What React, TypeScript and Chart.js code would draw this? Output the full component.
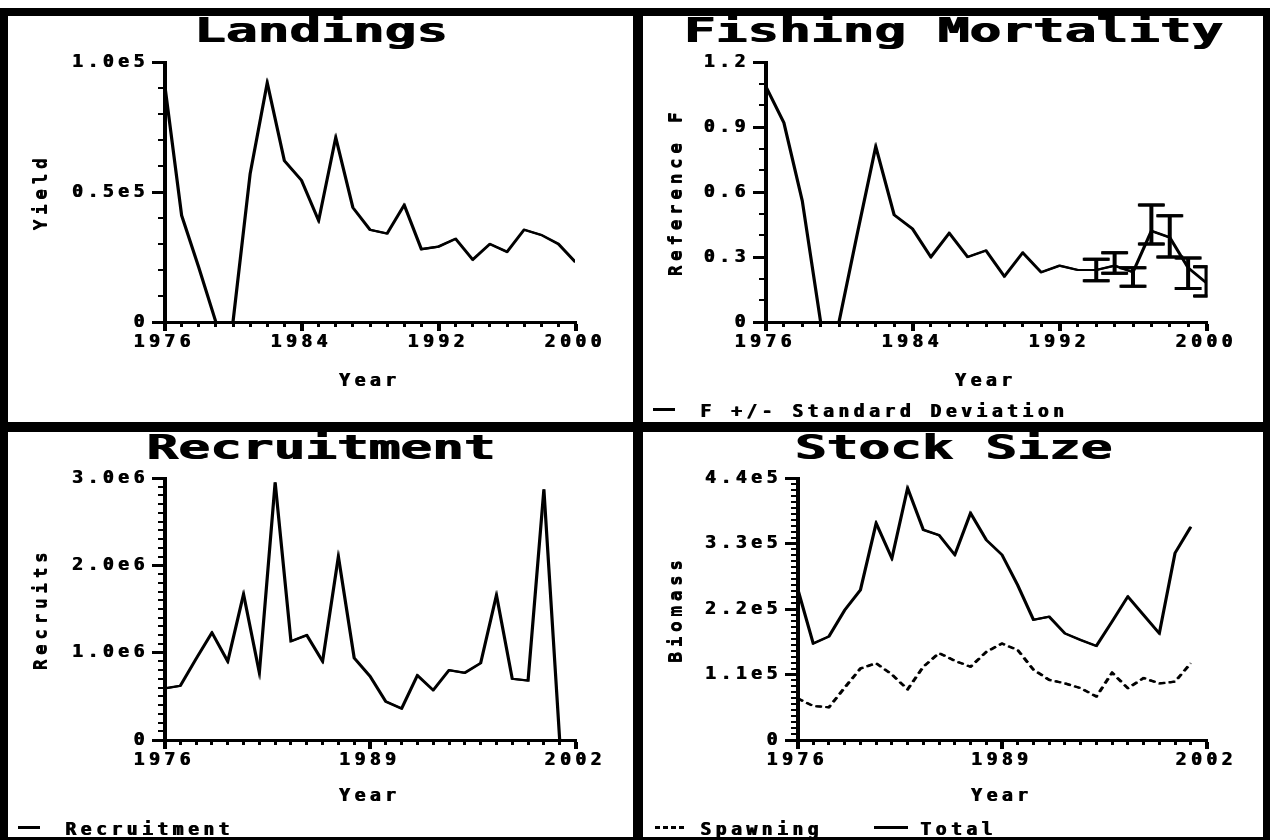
import React, { useEffect, useRef } from 'react';
import { Chart, registerables } from 'chart.js';

Chart.register(...registerables);

const FONT = '"DejaVu Sans Mono", "Liberation Mono", monospace';
const LETTER_SPACING = '4.5px';

// ---------- data ----------
const yearsA = [1976, 1977, 1978, 1979, 1980, 1981, 1982, 1983, 1984, 1985, 1986, 1987, 1988, 1989, 1990, 1991, 1992, 1993, 1994, 1995, 1996, 1997, 1998, 1999, 2000];
const yearsB = [1976, 1977, 1978, 1979, 1980, 1981, 1982, 1983, 1984, 1985, 1986, 1987, 1988, 1989, 1990, 1991, 1992, 1993, 1994, 1995, 1996, 1997, 1998, 1999, 2000, 2001];

const landingsYield = [92000, 41000, 21000, 0, 0, 57000, 92000, 62000, 54500, 39000, 71000, 44000, 35500, 34000, 45000, 28000, 29000, 32000, 24000, 30000, 27000, 35500, 33500, 30000, 23000];

const fishingF = [1.09, 0.92, 0.56, 0, 0, 0.41, 0.81, 0.495, 0.43, 0.3, 0.41, 0.3, 0.33, 0.21, 0.32, 0.23, 0.26, 0.24, 0.24, 0.26, 0.23, 0.42, 0.39, 0.25, 0.18];
const sdYears = [1994, 1995, 1996, 1997, 1998, 1999, 2000];
const fUpper = [0.29, 0.32, 0.25, 0.54, 0.49, 0.295, 0.255];
const fLower = [0.19, 0.225, 0.165, 0.36, 0.3, 0.155, 0.12];

const recruits = [590000, 620000, 930000, 1230000, 900000, 1670000, 770000, 2950000, 1130000, 1200000, 900000, 2100000, 940000, 730000, 440000, 360000, 740000, 570000, 800000, 770000, 880000, 1660000, 700000, 680000, 2870000, 0];

const totalBiomass = [255000, 162000, 174000, 218000, 252000, 364000, 305000, 423000, 353000, 344000, 311000, 381000, 336000, 311000, 260000, 202000, 207000, 179000, 168000, 158000, 199000, 241000, 210000, 179000, 314000, 358000];
const spawningBiomass = [70000, 57000, 55000, 88000, 120000, 129000, 110000, 85000, 123000, 146000, 133000, 123000, 148000, 162000, 151000, 118000, 101000, 95000, 87000, 73000, 113000, 87000, 104000, 95000, 98000, 129000];

const xTicksTop = [1976, 1984, 1992, 2000];
const xTicksBottom = [1976, 1989, 2002];
const yTicksLandings = [0, 50000, 100000];
const yLabelsLandings = ['0', '0.5e5', '1.0e5'];
const yTicksF = [0, 0.3, 0.6, 0.9, 1.2];
const yLabelsF = ['0', '0.3', '0.6', '0.9', '1.2'];
const yTicksRecruits = [0, 1000000, 2000000, 3000000];
const yLabelsRecruits = ['0', '1.0e6', '2.0e6', '3.0e6'];
const yTicksBiomass = [0, 110000, 220000, 330000, 440000];
const yLabelsBiomass = ['0', '1.1e5', '2.2e5', '3.3e5', '4.4e5'];

// ---------- plugins ----------
function styleCtx(chart: any) {
  const ctx = chart.ctx;
  ctx.letterSpacing = LETTER_SPACING;
  ctx.shadowColor = '#000';
  ctx.shadowOffsetX = 1;
  ctx.shadowOffsetY = 0;
  ctx.shadowBlur = 0;
}

const spacingPlugin = {
  id: 'letterSpacingHack',
  beforeUpdate(chart: any) { styleCtx(chart); },
  beforeLayout(chart: any) { styleCtx(chart); },
  beforeDraw(chart: any) { styleCtx(chart); },
};

const minorTicksPlugin = {
  id: 'minorTicks',
  afterDraw(chart: any, _args: any, opts: any) {
    if (!opts || !opts.xStep) return;
    const x = chart.scales.x;
    const y = chart.scales.y;
    const ctx = chart.ctx;
    ctx.save();
    ctx.strokeStyle = '#000';
    ctx.lineWidth = 2;
    ctx.beginPath();
    const nx = Math.round((x.max - x.min) / opts.xStep);
    for (let k = 0; k <= nx; k++) {
      const px = Math.round(x.getPixelForValue(x.min + k * opts.xStep));
      ctx.moveTo(px, x.top);
      ctx.lineTo(px, x.top + 5);
    }
    const ny = Math.round((y.max - y.min) / opts.yStep);
    for (let k = 0; k <= ny; k++) {
      const py = Math.round(y.getPixelForValue(y.min + k * opts.yStep));
      ctx.moveTo(y.right - 6, py);
      ctx.lineTo(y.right, py);
    }
    ctx.stroke();
    ctx.restore();
  },
};

const errorBarPlugin = {
  id: 'errorBars',
  afterDatasetsDraw(chart: any, _args: any, opts: any) {
    if (!opts || !opts.years) return;
    const { years, upper, lower } = opts;
    const x = chart.scales.x;
    const y = chart.scales.y;
    const ca = chart.chartArea;
    const ctx = chart.ctx;
    ctx.save();
    ctx.beginPath();
    ctx.rect(ca.left - 20, ca.top - 5, ca.right - ca.left + 21.5, ca.bottom - ca.top + 5);
    ctx.clip();
    ctx.strokeStyle = '#000';
    ctx.lineWidth = 3;
    ctx.beginPath();
    for (let i = 0; i < years.length; i++) {
      const px = x.getPixelForValue(years[i]);
      const pu = y.getPixelForValue(upper[i]);
      const pl = y.getPixelForValue(lower[i]);
      ctx.moveTo(px, pu);
      ctx.lineTo(px, pl);
      ctx.moveTo(px - 13, pu);
      ctx.lineTo(px + 13, pu);
      ctx.moveTo(px - 13, pl);
      ctx.lineTo(px + 13, pl);
    }
    ctx.stroke();
    ctx.restore();
  },
};

// ---------- chart panel ----------
type Series = { values: number[]; dash?: number[]; width?: number };
type Spec = {
  width: number;
  height: number;
  area: { left: number; right: number; top: number; bottom: number };
  years: number[];
  series: Series[];
  xMin: number;
  xMax: number;
  xTicks: number[];
  yMax: number;
  yTicks: number[];
  yLabels: string[];
  yTitle: string;
  xMinorStep: number;
  yMinorStep: number;
  errorBars?: { years: number[]; upper: number[]; lower: number[] };
};

const tickFont = { family: FONT, size: 18, weight: 'bold' as const, lineHeight: 1 };

function ChartCanvas({ spec }: { spec: Spec }) {
  const ref = useRef<HTMLCanvasElement | null>(null);
  useEffect(() => {
    if (!ref.current) return;
    const s = spec;
    const chart = new Chart(ref.current, {
      type: 'line',
      data: {
        datasets: s.series.map((ser) => ({
          data: s.years.map((yr, i) => ({ x: yr, y: ser.values[i] })),
          borderColor: '#000',
          borderWidth: ser.width ?? 2.2,
          borderDash: ser.dash ?? [],
          pointRadius: 0,
          tension: 0,
          fill: false,
        })),
      },
      options: {
        animation: false,
        responsive: false,
        events: [],
        layout: { padding: { left: 0, top: s.area.top, right: s.width - s.area.right, bottom: 0 } },
        plugins: {
          legend: { display: false },
          tooltip: { enabled: false },
          title: { display: false },
          minorTicks: { xStep: s.xMinorStep, yStep: s.yMinorStep },
          errorBars: s.errorBars ? { ...s.errorBars } : {},
        } as any,
        scales: {
          x: {
            type: 'linear',
            min: s.xMin,
            max: s.xMax,
            afterFit: (scale: any) => { scale.height = s.height - s.area.bottom; },
            afterBuildTicks: (scale: any) => { scale.ticks = s.xTicks.map((v) => ({ value: v })); },
            ticks: {
              autoSkip: false,
              maxRotation: 0,
              color: '#000',
              font: tickFont,
              padding: 2.5,
              callback: (v: any) => String(v),
            },
            grid: { drawOnChartArea: false, drawTicks: true, tickLength: 9, tickWidth: 3, tickColor: '#000' },
            border: { display: true, color: '#000', width: 3 },
            title: { display: true, text: 'Year', color: '#000', font: tickFont, padding: { top: 0, bottom: 31.5 } },
          },
          y: {
            type: 'linear',
            min: 0,
            max: s.yMax,
            afterFit: (scale: any) => { scale.width = s.area.left; },
            afterBuildTicks: (scale: any) => { scale.ticks = s.yTicks.map((v) => ({ value: v })); },
            ticks: {
              autoSkip: false,
              color: '#000',
              font: tickFont,
              padding: 3.5,
              callback: (_v: any, i: number) => s.yLabels[i],
            },
            grid: { drawOnChartArea: false, drawTicks: true, tickLength: 12, tickWidth: 3, tickColor: '#000' },
            border: { display: true, color: '#000', width: 3 },
            title: { display: true, text: s.yTitle, color: '#000', font: tickFont, padding: { top: 24.5, bottom: 0 } },
          },
        },
      } as any,
      plugins: [spacingPlugin, minorTicksPlugin, errorBarPlugin],
    });
    return () => chart.destroy();
  }, [spec]);
  return <canvas ref={ref} width={spec.width} height={spec.height} style={{ display: 'block', position: 'absolute', left: 0, top: 0 }} />;
}

// ---------- layout ----------
const textStyle: React.CSSProperties = {
  position: 'absolute',
  fontFamily: FONT,
  fontWeight: 'bold',
  fontSize: 18,
  lineHeight: '18px',
  letterSpacing: LETTER_SPACING,
  color: '#000',
  whiteSpace: 'nowrap',
  textShadow: '1px 0 0 #000',
};

function Title({ text, top, width }: { text: string; top: number; width: number }) {
  return (
    <div
      style={{
        position: 'absolute',
        left: 0,
        top,
        width,
        textAlign: 'center',
        fontFamily: FONT,
        fontWeight: 'bold',
        fontSize: 34,
        lineHeight: '34px',
        color: '#000',
        whiteSpace: 'nowrap',
        transform: 'scaleX(1.55)',
        transformOrigin: 'center',
        textShadow: '1px 0 0 #000',
      }}
    >
      {text}
    </div>
  );
}

function LegendLine({ left, width, top, dashed }: { left: number; width: number; top: number; dashed?: boolean }) {
  return (
    <div
      style={{
        position: 'absolute',
        left,
        top,
        width,
        height: 3,
        background: dashed ? 'repeating-linear-gradient(to right, #000 0 5px, transparent 5px 8px)' : '#000',
      }}
    />
  );
}

const landingsSpec: Spec = {
  width: 625, height: 406,
  area: { left: 156, right: 567, top: 46, bottom: 306 },
  years: yearsA,
  series: [{ values: landingsYield }],
  xMin: 1976, xMax: 2000, xTicks: xTicksTop,
  yMax: 100000, yTicks: yTicksLandings, yLabels: yLabelsLandings, yTitle: 'Yield',
  xMinorStep: 1, yMinorStep: 10000,
};

const fishingSpec: Spec = {
  width: 620, height: 406,
  area: { left: 122, right: 563, top: 46, bottom: 306 },
  years: yearsA,
  series: [{ values: fishingF }],
  xMin: 1976, xMax: 2000, xTicks: xTicksTop,
  yMax: 1.2, yTicks: yTicksF, yLabels: yLabelsF, yTitle: 'Reference F',
  xMinorStep: 1, yMinorStep: 0.1,
  errorBars: { years: sdYears, upper: fUpper, lower: fLower },
};

const recruitSpec: Spec = {
  width: 625, height: 405,
  area: { left: 156, right: 567, top: 46, bottom: 308 },
  years: yearsB,
  series: [{ values: recruits }],
  xMin: 1976, xMax: 2002, xTicks: xTicksBottom,
  yMax: 3000000, yTicks: yTicksRecruits, yLabels: yLabelsRecruits, yTitle: 'Recruits',
  xMinorStep: 1, yMinorStep: 100000,
};

const stockSpec: Spec = {
  width: 620, height: 405,
  area: { left: 154, right: 563, top: 46, bottom: 308 },
  years: yearsB,
  series: [{ values: spawningBiomass, dash: [6, 4] }, { values: totalBiomass }],
  xMin: 1976, xMax: 2002, xTicks: xTicksBottom,
  yMax: 440000, yTicks: yTicksBiomass, yLabels: yLabelsBiomass, yTitle: 'Biomass',
  xMinorStep: 1, yMinorStep: 10000,
};

function Panel({ left, top, width, height, children }: any) {
  return (
    <div style={{ position: 'absolute', left, top, width, height, background: '#fff', overflow: 'hidden' }}>
      {children}
    </div>
  );
}

export default function App() {
  return (
    <div style={{ position: 'absolute', left: 0, top: 0, width: 1270, height: 840, background: '#fff', overflow: 'hidden' }}>
      <div style={{ position: 'absolute', left: 0, top: 8, width: 1270, height: 832, background: '#000' }} />
      <Panel left={8} top={16} width={625} height={406}>
        <ChartCanvas spec={landingsSpec} />
        <Title text="Landings" top={-3} width={625} />
      </Panel>
      <Panel left={643} top={16} width={620} height={406}>
        <ChartCanvas spec={fishingSpec} />
        <Title text="Fishing Mortality" top={-3} width={620} />
        <LegendLine left={10} width={22} top={392} />
        <div style={{ ...textStyle, left: 57, top: 386 }}>F +/- Standard Deviation</div>
      </Panel>
      <Panel left={8} top={432} width={625} height={405}>
        <ChartCanvas spec={recruitSpec} />
        <Title text="Recruitment" top={-2} width={625} />
        <LegendLine left={10} width={22} top={394} />
        <div style={{ ...textStyle, left: 57, top: 388 }}>Recruitment</div>
      </Panel>
      <Panel left={643} top={432} width={620} height={405}>
        <ChartCanvas spec={stockSpec} />
        <Title text="Stock Size" top={-2} width={620} />
        <LegendLine left={12} width={31} top={394} dashed />
        <div style={{ ...textStyle, left: 57, top: 388 }}>Spawning</div>
        <LegendLine left={231} width={34} top={394} />
        <div style={{ ...textStyle, left: 277, top: 388 }}>Total</div>
      </Panel>
    </div>
  );
}
